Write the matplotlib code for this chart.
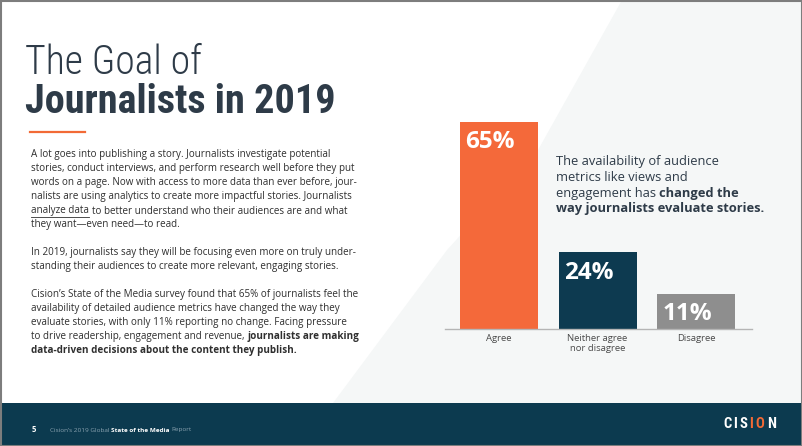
import matplotlib
matplotlib.use('Agg')
import matplotlib.pyplot as plt
from matplotlib.patches import Polygon, Rectangle
import numpy as np

# data
categories = ['Agree', 'Neither agree\nnor disagree', 'Disagree']
values = [65, 24, 11]
value_labels = ['65%', '24%', '11%']
bar_colors = ['#f4693a', '#0d3a50', '#8e8e8e']

title_light = 'The Goal of'
title_bold = 'Journalists in 2019'

callout = [
    [('The availability of audience', 'normal')],
    [('metrics like views and', 'normal')],
    [('engagement has ', 'normal'), ('changed the', 'bold')],
    [('way journalists evaluate stories.', 'bold')],
]

body = [
    [('A lot goes into publishing a story. Journalists investigate potential', 'normal')],
    [('stories, conduct interviews, and perform research well before they put', 'normal')],
    [('words on a page. Now with access to more data than ever before, jour-', 'normal')],
    [('nalists are using analytics to create more impactful stories. Journalists', 'normal')],
    [('analyze data', 'underline'), (' to better understand who their audiences are and what', 'normal')],
    [('they want\u2014even need\u2014to read.', 'normal')],
    [],
    [('In 2019, journalists say they will be focusing even more on truly under-', 'normal')],
    [('standing their audiences to create more relevant, engaging stories.', 'normal')],
    [],
    [('Cision\u2019s State of the Media survey found that 65% of journalists feel the', 'normal')],
    [('availability of detailed audience metrics have changed the way they', 'normal')],
    [('evaluate stories, with only 11% reporting no change. Facing pressure', 'normal')],
    [('to drive readership, engagement and revenue, ', 'normal'), ('journalists are making', 'bold')],
    [('data-driven decisions about the content they publish.', 'bold')],
]

footer = [('Cision\u2019s 2019 Global ', 'light'), ('State of the Media', 'bold'), (' Report', 'light')]
logo = 'CISION'
logo_colors = ['white', 'white', 'white', '#f26a36', '#f26a36', 'white']

W, H = 802, 446
fig = plt.figure(figsize=(W / 100, H / 100), dpi=100)
fig.patch.set_facecolor('white')

# background layer in pixel coords
bg = fig.add_axes([0, 0, 1, 1])
bg.set_xlim(0, W)
bg.set_ylim(H, 0)
bg.axis('off')
bg.add_patch(Polygon([(622, 0), (W, 0), (W, 403), (333, 403), (447, 250), (538, 150)],
                     closed=True, facecolor='#f5f7f7', edgecolor='none'))
bg.add_patch(Rectangle((0, 403), W, H - 403, facecolor='#0c3a4f', edgecolor='none'))
bg.add_patch(Rectangle((0.5, 0.5), W - 1, H - 1, facecolor='none', edgecolor='#7d7d7d', lw=1.5))

renderer = fig.canvas.get_renderer()
sans = ['Open Sans', 'DejaVu Sans']
narrow = ['Roboto Condensed', 'Liberation Sans Narrow', 'DejaVu Sans']


def space_w(size, weight, family):
    a = bg.text(0, 0, 'a a', fontsize=size, fontweight=weight, family=family)
    b = bg.text(0, 0, 'aa', fontsize=size, fontweight=weight, family=family)
    w = a.get_window_extent(renderer).width - b.get_window_extent(renderer).width
    a.remove()
    b.remove()
    return w


def rich_line(x, y, parts, size, color, family=sans):
    for s, style in parts:
        weight = 'bold' if style == 'bold' else 'normal'
        c = '#8aa2b0' if style == 'light' else color
        sw = space_w(size, weight, family)
        if s.startswith(' '):
            x += sw
        t = bg.text(x, y, s.strip(), fontsize=size, fontweight=weight, family=family,
                    color=c, va='center', ha='left')
        w = t.get_window_extent(renderer).width
        if style == 'underline':
            bg.plot([x, x + w], [y + 5.5, y + 5.5], color=c, lw=0.6)
        x += w
        if s.endswith(' '):
            x += sw
    return x


# title
bg.text(25, 63, title_light, fontsize=28.5, family=narrow, fontweight='light',
        color='#2e3b48', va='center', ha='left')
bg.text(25, 102, title_bold, fontsize=29, family=narrow, fontweight='bold',
        color='#2e3b48', va='center', ha='left')
bg.plot([30, 85], [132, 132], color='#f26a36', lw=1.6)

# body text
for i, parts in enumerate(body):
    if parts:
        rich_line(31, 155 + 14 * i, parts, 7.1, '#2f2f2f')

# callout
for i, parts in enumerate(callout):
    rich_line(556, 162 + 15.6 * i, parts, 9.3, '#2e3b48')

# footer
bg.text(32, 430, '5', fontsize=5.5, fontweight='bold', color='white', va='center', family=sans)
rich_line(50, 430, footer, 4.6, 'white')
lx = 723
for ch, c in zip(logo, logo_colors):
    t = bg.text(lx, 424, ch, fontsize=10.5, fontweight='bold', family=narrow,
                color=c, va='center', ha='left')
    lx += t.get_window_extent(renderer).width + 2.2

# bar chart
base_px, top_px = 328.5, 100
left_px, right_px = 445, 752
ax = fig.add_axes([left_px / W, (H - base_px) / H, (right_px - left_px) / W, (base_px - top_px) / H])
ax.patch.set_alpha(0)
unit = 98.5
ax.set_xlim(-(499 - left_px) / unit, 2 + (right_px - 696) / unit)
ax.set_ylim(0, (base_px - top_px) / ((base_px - 122) / 65))
x = np.arange(len(values))
bw = 78 / unit
ax.bar(x, values, width=bw, color=bar_colors, zorder=2)
for xi, v, lab in zip(x, values, value_labels):
    ax.annotate(lab, xy=(xi - bw / 2, v), xytext=(4, -6), textcoords='offset points',
                ha='left', va='top', fontsize=17.5, fontweight='bold', color='white', family=sans)
for s in ['top', 'right', 'left']:
    ax.spines[s].set_visible(False)
ax.spines['bottom'].set_color('#b5b5b5')
ax.spines['bottom'].set_linewidth(1)
ax.set_yticks([])
ax.set_xticks(x)
ax.set_xticklabels(categories, fontsize=6.8, color='#4a4a4a', family=sans, linespacing=1.2)
ax.tick_params(axis='x', length=0, pad=4)

fig.savefig('out.png', dpi=100)
